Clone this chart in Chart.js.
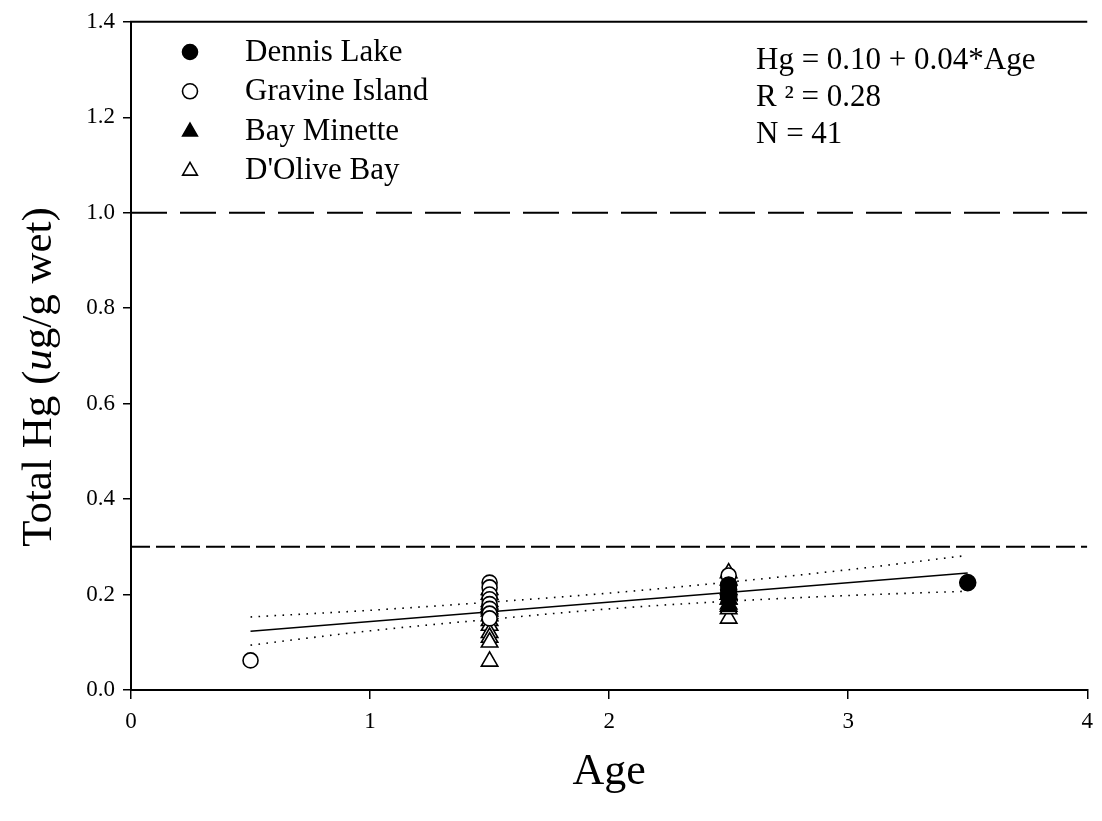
<!DOCTYPE html>
<html>
<head>
<meta charset="utf-8">
<script src="https://cdn.jsdelivr.net/npm/chart.js@4.4.1/dist/chart.umd.min.js"></script>
<style>
  html, body { margin: 0; padding: 0; background: #fff; }
  #wrap { width: 1102px; height: 821px; position: relative; }
</style>
</head>
<body>
<div id="wrap"><canvas id="c" width="1102" height="821"></canvas></div>
<script>
// ---- data ----
const seriesNames = ["Dennis Lake", "Gravine Island", "Bay Minette", "D'Olive Bay"];

const dennisAge = [3.5, 2.5, 2.5, 2.5, 2.5];
const dennisHg  = [0.225, 0.22, 0.21, 0.20, 0.195];

const gravineAge = [0.5, 1.5, 1.5, 1.5, 1.5, 1.5, 1.5, 1.5, 1.5, 2.5, 2.5];
const gravineHg  = [0.062, 0.225, 0.215, 0.20, 0.19, 0.18, 0.17, 0.16, 0.15, 0.24, 0.22];

const minetteAge = [2.5, 2.5, 2.5, 2.5, 2.5, 1.5, 1.5];
const minetteHg  = [0.175, 0.18, 0.19, 0.20, 0.21, 0.17, 0.18];

const oliveAge = [1.5, 1.5, 1.5, 1.5, 1.5, 1.5, 1.5, 1.5, 1.5, 1.5, 1.5, 1.5, 2.5, 2.5, 2.5, 2.5, 2.5, 2.5];
const oliveHg  = [0.21, 0.20, 0.185, 0.175, 0.165, 0.155, 0.145, 0.135, 0.12, 0.11, 0.10, 0.06, 0.245, 0.23, 0.15, 0.20, 0.19, 0.17];

const fitAge = [0.5, 3.5];
const fitHg  = [0.123, 0.245];

const bandAge   = [0.5, 1.0, 1.5, 2.0, 2.5, 3.0, 3.5];
const bandUpper = [0.153, 0.167, 0.184, 0.203, 0.226, 0.252, 0.282];
const bandLower = [0.094, 0.124, 0.148, 0.170, 0.186, 0.198, 0.207];

const refLevels = [1.0, 0.3];
const xRange = [0, 4];
const yRange = [0, 1.4];

const annotationLines = ["Hg = 0.10 + 0.04*Age", "R \u00B2 = 0.28", "N = 41"];

// ---- helpers ----
const pts = (xs, ys) => xs.map((x, i) => ({ x: x, y: ys[i] }));
const SERIF = "'Liberation Serif', 'Times New Roman', serif";

const markerStyles = [
  { pointStyle: 'circle',   fill: '#000', radius: 8 },
  { pointStyle: 'circle',   fill: '#fff', radius: 7.5 },
  { pointStyle: 'triangle', fill: '#000', radius: 9.5 },
  { pointStyle: 'triangle', fill: '#fff', radius: 9.5 }
];
const seriesData = [
  pts(dennisAge, dennisHg),
  pts(gravineAge, gravineHg),
  pts(minetteAge, minetteHg),
  pts(oliveAge, oliveHg)
];

const datasets = [];
seriesNames.forEach((name, i) => {
  const m = markerStyles[i];
  datasets.push({
    label: name,
    type: 'scatter',
    data: seriesData[i],
    pointStyle: m.pointStyle,
    pointRadius: m.radius,
    pointBackgroundColor: m.fill,
    pointBorderColor: '#000',
    pointBorderWidth: 1.6,
    showLine: false,
    order: 0
  });
});
datasets.push({
  label: 'ref1', type: 'line',
  data: pts(xRange, [refLevels[0], refLevels[0]]),
  borderColor: '#000', borderWidth: 2, borderDash: [36, 13],
  pointRadius: 0, fill: false, order: 2
});
datasets.push({
  label: 'ref2', type: 'line',
  data: pts(xRange, [refLevels[1], refLevels[1]]),
  borderColor: '#000', borderWidth: 2, borderDash: [19, 6],
  pointRadius: 0, fill: false, order: 2
});
datasets.push({
  label: 'fit', type: 'line',
  data: pts(fitAge, fitHg),
  borderColor: '#000', borderWidth: 1.6,
  pointRadius: 0, fill: false, order: 1
});
datasets.push({
  label: 'upper', type: 'line',
  data: pts(bandAge, bandUpper),
  borderColor: '#000', borderWidth: 1.6, borderDash: [1.6, 6.4],
  cubicInterpolationMode: 'monotone',
  pointRadius: 0, fill: false, order: 1
});
datasets.push({
  label: 'lower', type: 'line',
  data: pts(bandAge, bandLower),
  borderColor: '#000', borderWidth: 1.6, borderDash: [1.6, 6.4],
  cubicInterpolationMode: 'monotone',
  pointRadius: 0, fill: false, order: 1
});

const decorPlugin = {
  id: 'decor',
  afterDraw(chart) {
    const ctx = chart.ctx;
    const ca = chart.chartArea;
    ctx.save();
    ctx.strokeStyle = '#000';
    ctx.lineWidth = 2;
    ctx.beginPath();
    ctx.moveTo(ca.left - 1, ca.top);
    ctx.lineTo(ca.right, ca.top);
    ctx.stroke();

    // legend
    const legX = 190, textX = 245, legY0 = 52, legDY = 39.3;
    ctx.font = '31px ' + SERIF;
    ctx.textBaseline = 'middle';
    ctx.textAlign = 'left';
    seriesNames.forEach((name, i) => {
      const m = markerStyles[i];
      const y = legY0 + i * legDY;
      ctx.fillStyle = m.fill;
      ctx.strokeStyle = '#000';
      ctx.lineWidth = 1.6;
      Chart.helpers.drawPoint(ctx, {
        pointStyle: m.pointStyle,
        radius: m.pointStyle === 'triangle' ? 8.5 : 7.5,
        borderWidth: 1.6,
        rotation: 0
      }, legX, y + (m.pointStyle === 'triangle' ? 1 : 0));
      ctx.fillStyle = '#000';
      ctx.fillText(name, textX, y + 1);
    });

    // annotation
    annotationLines.forEach((t, i) => {
      ctx.fillText(t, 756, 61 + i * 37);
    });

    // x title
    ctx.font = '44px ' + SERIF;
    ctx.textAlign = 'center';
    ctx.textBaseline = 'middle';
    ctx.fillText('Age', (ca.left + ca.right) / 2, 772);

    // y title with italic u
    const parts = [
      { t: 'Total Hg (', f: '43px ' + SERIF },
      { t: 'u', f: 'italic 43px ' + SERIF },
      { t: 'g/g wet)', f: '43px ' + SERIF }
    ];
    let total = 0;
    parts.forEach(p => { ctx.font = p.f; p.w = ctx.measureText(p.t).width; total += p.w; });
    ctx.translate(40, 377);
    ctx.rotate(-Math.PI / 2);
    ctx.textAlign = 'left';
    let x = -total / 2;
    parts.forEach(p => { ctx.font = p.f; ctx.fillText(p.t, x, 0); x += p.w; });
    ctx.restore();
  }
};

new Chart(document.getElementById('c'), {
  type: 'scatter',
  data: { datasets: datasets },
  options: {
    responsive: false,
    animation: false,
    events: [],
    layout: { padding: { left: 0, right: 14, top: 21, bottom: 0 } },
    plugins: { legend: { display: false }, tooltip: { enabled: false } },
    scales: {
      x: {
        type: 'linear',
        min: xRange[0], max: xRange[1],
        ticks: {
          stepSize: 1, color: '#000', padding: 9,
          font: { family: SERIF, size: 23 },
          callback: v => String(v)
        },
        grid: { display: true, drawOnChartArea: false, drawTicks: true, tickLength: 9, color: '#000', lineWidth: 1.5 },
        border: { display: true, color: '#000', width: 2 },
        afterFit: s => { s.height = 131; }
      },
      y: {
        type: 'linear',
        min: yRange[0], max: yRange[1],
        ticks: {
          stepSize: 0.2, color: '#000', padding: 8,
          font: { family: SERIF, size: 23 },
          callback: v => Number(v).toFixed(1)
        },
        grid: { display: true, drawOnChartArea: false, drawTicks: true, tickLength: 8, color: '#000', lineWidth: 1.5 },
        border: { display: true, color: '#000', width: 2 },
        afterFit: s => { s.width = 131; }
      }
    }
  },
  plugins: [decorPlugin]
});
</script>
</body>
</html>
